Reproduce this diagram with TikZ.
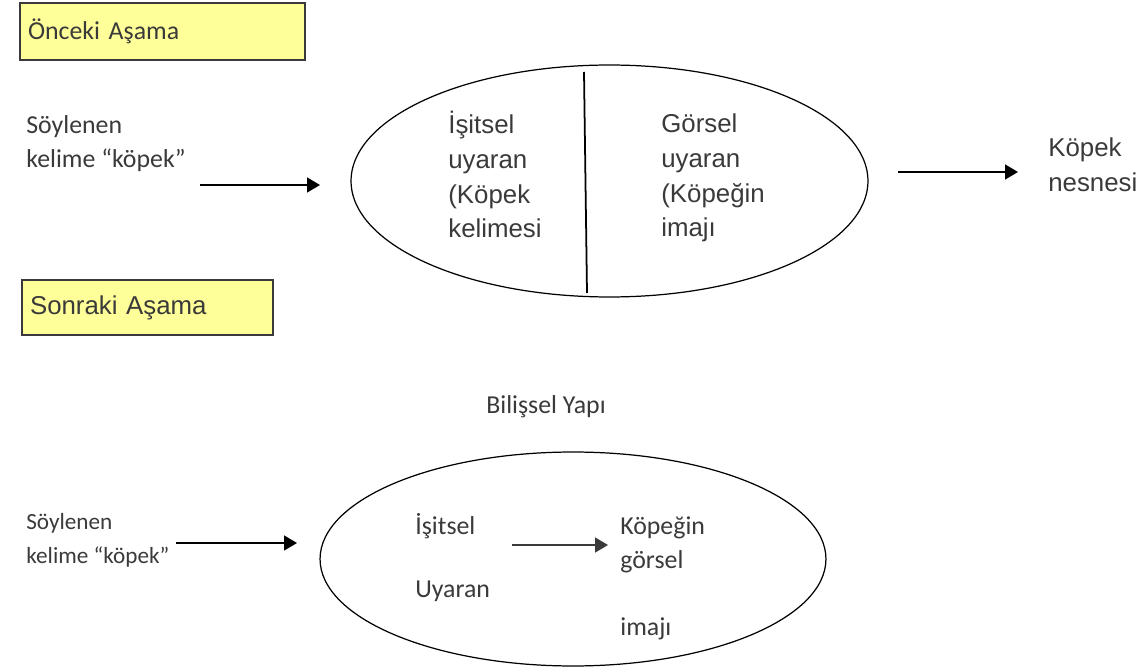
\documentclass[tikz,border=0pt]{standalone}
\usepackage{fontspec}
\setmainfont{Carlito}
\newfontfamily\arialfont{Liberation Sans}
\usetikzlibrary{arrows.meta, positioning, shapes.geometric}
\definecolor{cyellow}{HTML}{FFFF99}
\definecolor{cdark}{HTML}{3A3A3A}
\tikzset{
  stage/.style={draw=cdark, fill=cyellow, line width=0.9pt, align=left, inner ysep=0pt, inner xsep=0.16cm, text=cdark},
  lbl/.style={anchor=base west, inner sep=0pt, align=left, text=cdark, font=\fontsize{14.7}{19.8}\selectfont},
  albl/.style={lbl, font=\arialfont\fontsize{14.7}{19.8}\selectfont},
  arrow/.style={-{Triangle[length=7.4pt, width=8.5pt]}, line width=1.1pt},
  oval/.style={ellipse, draw, line width=0.7pt, inner sep=0pt},
}
\begin{document}
\begin{tikzpicture}[x=0.02cm, y=-0.02cm]
  \useasboundingbox (0,0) rectangle (1143,672);
  % upper stage
  \node[stage, text width=5.38cm, minimum height=1.14cm, font=\fontsize{14.7}{19.8}\selectfont] (once) at (162.5,31.5) {Önceki Aşama};
  \node[lbl] (soz1) at (26,168) {Söylenen\\kelime “köpek”};
  \node[oval, minimum width=10.34cm, minimum height=4.64cm] (el1) at (609.5,181) {};
  \draw[line width=1pt] (584,72) -- (587,293);
  \node[albl] (isit1) at (448,238) {İşitsel\\uyaran\\(Köpek\\kelimesi};
  \node[albl] (gors1) at (661,237) {Görsel\\uyaran\\(Köpeğin\\imajı};
  \node[albl, font=\arialfont\fontsize{14.7}{20.4}\selectfont] (nesne) at (1048,192) {Köpek\\nesnesi};
  \coordinate (a1s) at (200,185);
  \coordinate (a1e) at (320,185);
  \coordinate (a2s) at (898,172);
  \coordinate (a2e) at (1018,172);
  \draw[arrow] (a1s) -- (a1e);
  \draw[arrow] (a2s) -- (a2e);
  % lower stage
  \node[stage, text width=4.7cm, minimum height=1.1cm, font=\arialfont\fontsize{14.7}{19.8}\selectfont] (sonra) at (147.5,307.5) {Sonraki Aşama};
  \node[lbl] (yapi) at (486,413) {Bilişsel Yapı};
  \node[lbl, font=\fontsize{13.2}{19.3}\selectfont] (soz2) at (26,563) {Söylenen\\kelime “köpek”};
  \node[oval, minimum width=10.12cm, minimum height=4.28cm] (el2) at (573,559) {};
  \node[lbl] (isit2) at (415,534) {İşitsel};
  \node[lbl] (uyar2) at (415,597) {Uyaran};
  \node[lbl] (kop2) at (620,534) {Köpeğin};
  \node[lbl] (gors2) at (620,568) {görsel};
  \node[lbl] (imaj2) at (620,635) {imajı};
  \coordinate (a3s) at (176,543);
  \coordinate (a3e) at (297,543);
  \coordinate (a4s) at (512,545);
  \coordinate (a4e) at (608,545);
  \draw[arrow] (a3s) -- (a3e);
  \draw[arrow, draw=cdark] (a4s) -- (a4e);
\end{tikzpicture}
\end{document}
